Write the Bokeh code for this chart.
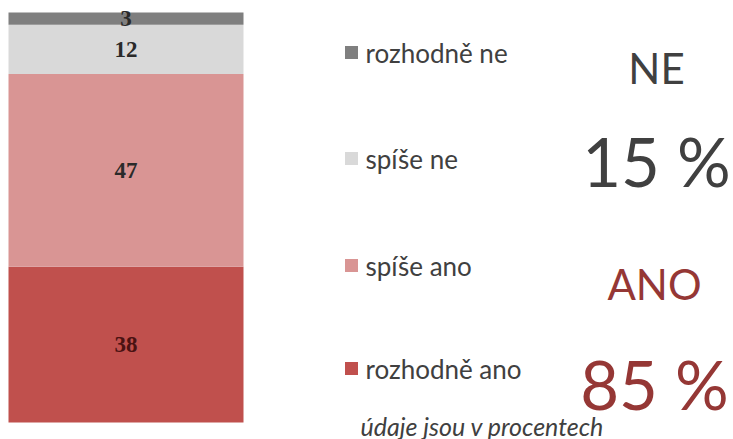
from bokeh.plotting import figure
from bokeh.models import Range1d, ColumnDataSource, Label
from bokeh.core.properties import value
from bokeh.embed import file_html
from bokeh.resources import INLINE
import numpy as np

# ---- data ----
categories = ["rozhodně ano", "spíše ano", "spíše ne", "rozhodně ne"]
values = [38, 47, 12, 3]
colors = ["#c0504d", "#d99594", "#d9d9d9", "#7f7f7f"]
label_colors = ["#4a1212", "#2a2a2a", "#2a2a2a", "#2a2a2a"]

summary_titles = ["NE", "ANO"]
summary_values = [15, 85]
summary_colors = ["#404040", "#953735"]
note = "údaje jsou v procentech"

# ---- layout (styles / positions) ----
W, H = 733, 439
bar_x, bar_w = 125.5, 235
legend_y = [368, 265, 158, 52]          # px from top, per category
SANS = "Lato"

p = figure(width=W, height=H, output_backend="svg", toolbar_location=None,
           min_border=0, x_range=Range1d(0, W), y_range=Range1d(-4.15, 102.93),
           x_axis_location=None, y_axis_location=None)
p.grid.visible = False
p.outline_line_color = None
p.background_fill_color = "white"
p.extra_y_ranges = {"px": Range1d(H, 0)}

tops = np.cumsum(values)
bottoms = tops - np.array(values)
src = ColumnDataSource(dict(
    cat=categories, val=values, top=tops, bottom=bottoms,
    mid=(tops + bottoms) / 2, color=colors, lcolor=label_colors,
    txt=[str(v) for v in values], ly=legend_y))

p.vbar(x=bar_x, width=bar_w, bottom="bottom", top="top", fill_color="color",
       line_color=None, source=src)
p.text(x=bar_x, y="mid", text="txt", text_color="lcolor", text_align="center",
       text_baseline="middle", text_font=value("Liberation Serif"),
       text_font_size="23px", text_font_style="bold", source=src)

# legend
p.scatter(x=351, y="ly", marker="square", size=13, fill_color="color",
          line_color=None, y_range_name="px", source=src)
p.text(x=365, y="ly", text="cat", text_color="#404040", text_align="left",
       text_baseline="middle", text_font=value(SANS), text_font_size="26px",
       y_range_name="px", source=src)

# summaries
sum_pos = [(656, 67, 160), (654, 283, 383)]
for (t, v, c, (cx, ty, vy)) in zip(summary_titles, summary_values, summary_colors, sum_pos):
    p.add_layout(Label(x=cx, y=ty, y_range_name="px", text=t, text_color=c,
                       text_align="center", text_baseline="alphabetic",
                       text_font=SANS, text_font_size="42px"))
    p.add_layout(Label(x=cx, y=vy, y_range_name="px", text=f"{v} %", text_color=c,
                       text_align="center", text_baseline="alphabetic",
                       text_font=SANS, text_font_size="67px"))

p.add_layout(Label(x=360, y=425, y_range_name="px", text=note, text_color="#404040",
                   text_align="left", text_baseline="alphabetic", text_font=SANS,
                   text_font_size="25px", text_font_style="italic"))

open("out.html", "w").write(file_html(p, INLINE))
